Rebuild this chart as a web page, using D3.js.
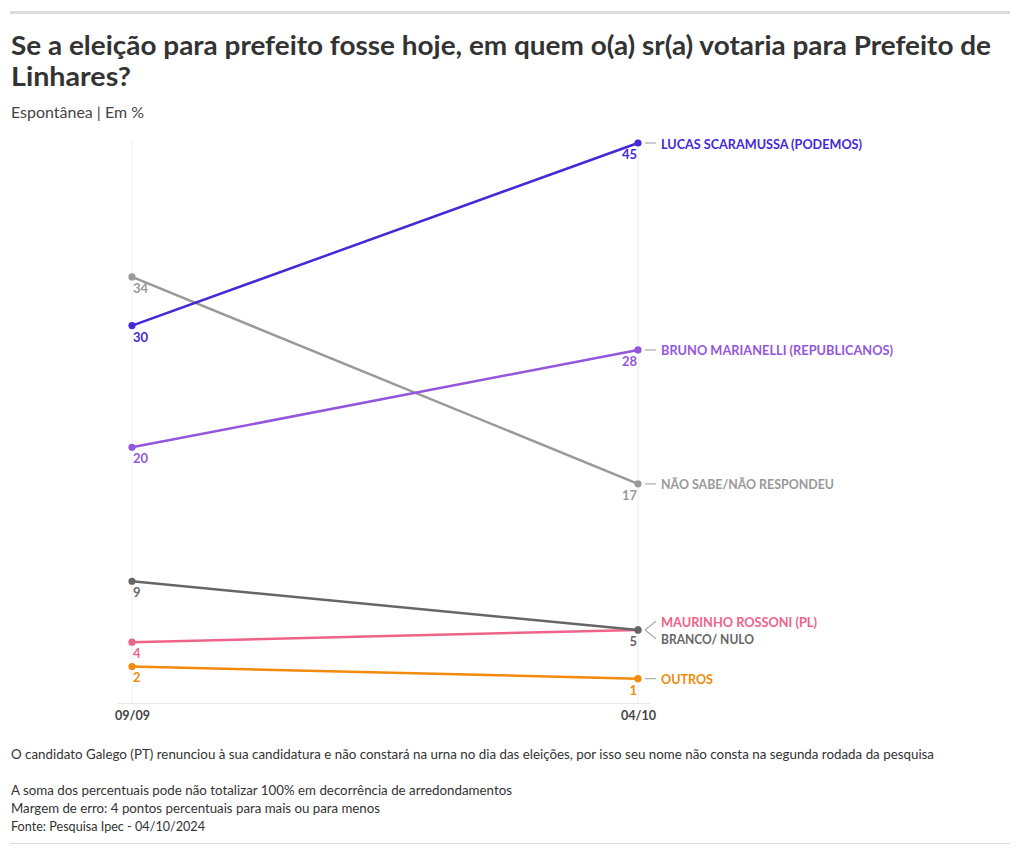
<!DOCTYPE html>
<html><head><meta charset="utf-8">
<script src="https://cdn.jsdelivr.net/npm/d3@7"></script>
<style>
body{margin:0;background:#fff;}
svg{display:block;font-family:Lato,"Noto Sans",sans-serif;}
</style></head>
<body>
<svg id="c" width="1020" height="855"></svg>
<script>
const dates = ["09/09", "04/10"];
const seriesNames = ["NÃO SABE/NÃO RESPONDEU", "LUCAS SCARAMUSSA (PODEMOS)", "BRUNO MARIANELLI (REPUBLICANOS)", "MAURINHO ROSSONI (PL)", "BRANCO/ NULO", "OUTROS"];
const valuesFirst = [34, 30, 20, 4, 9, 2];
const valuesSecond = [17, 45, 28, 5, 5, 1];
const seriesColors = ["#999999", "#4528d8", "#9457dc", "#ef6389", "#666666", "#f28a0a"];
const showEndValue = [true, true, true, false, true, true];
const titleLines = ["Se a eleição para prefeito fosse hoje, em quem o(a) sr(a) votaria para Prefeito de", "Linhares?"];
const subtitle = "Espontânea | Em %";
const notes = ["O candidato Galego (PT) renunciou à sua candidatura e não constará na urna no dia das eleições, por isso seu nome não consta na segunda rodada da pesquisa", "", "A soma dos percentuais pode não totalizar 100% em decorrência de arredondamentos", "Margem de erro: 4 pontos percentuais para mais ou para menos", "Fonte: Pesquisa Ipec - 04/10/2024"];

const svg = d3.select("#c");
const fit = (sel, w) => sel.attr("textLength", w).attr("lengthAdjust", "spacingAndGlyphs");

// top rule
svg.append("rect").attr("x", 10).attr("y", 11).attr("width", 1000).attr("height", 3).attr("fill", "#dddddd");
// title
const titleW = [980, 120];
titleLines.forEach((t, i) => {
  svg.append("text").attr("x", 11).attr("y", 55 + i * 31).attr("font-size", 27.5).attr("font-weight", 700)
    .attr("fill", "#333").text(t).call(fit, titleW[i]);
});
svg.append("text").attr("x", 11).attr("y", 118).attr("font-size", 15.5).attr("fill", "#444").text(subtitle).call(fit, 133);

const x = d3.scalePoint().domain(dates).range([132, 638]);
const y = d3.scaleLinear().domain([-1, 45]).range([703, 143]);

// grid verticals
dates.forEach(d => {
  svg.append("line").attr("x1", x(d)).attr("x2", x(d)).attr("y1", 140).attr("y2", 703)
    .attr("stroke", "#eeeeee").attr("stroke-width", 1);
});
// baseline
svg.append("line").attr("x1", 118).attr("x2", 650).attr("y1", 703.5).attr("y2", 703.5).attr("stroke", "#e6e6e6");

// x axis
const xAxis = d3.axisBottom(x).tickSize(0).tickPadding(0);
const gx = svg.append("g").attr("transform", "translate(0,705)").call(xAxis);
gx.select(".domain").remove();
gx.selectAll("text").attr("font-size", 13.5).attr("font-weight", 700).attr("fill", "#444")
  .attr("font-family", "Lato").attr("dy", "1.1em").each(function(){ d3.select(this).call(fit, 35); });

const series = seriesNames.map((n, i) => ({name: n, color: seriesColors[i], vals: [valuesFirst[i], valuesSecond[i]], showEnd: showEndValue[i]}));
const drawOrder = [0, 1, 2, 3, 4, 5];
const line = d3.line().x((v, j) => x(dates[j])).y(v => y(v));

drawOrder.forEach(i => {
  const s = series[i];
  svg.append("path").attr("d", line(s.vals)).attr("fill", "none").attr("stroke", s.color).attr("stroke-width", 2.5);
  s.vals.forEach((v, j) => {
    svg.append("circle").attr("cx", x(dates[j])).attr("cy", y(v)).attr("r", 3.6).attr("fill", s.color);
  });
  svg.append("text").attr("x", x(dates[0]) + 1).attr("y", y(s.vals[0]) + 16).attr("font-size", 13)
    .attr("font-weight", 700).attr("fill", s.color).text(s.vals[0]);
  if (s.showEnd) {
    svg.append("text").attr("x", x(dates[1]) - 1).attr("y", y(s.vals[1]) + 16).attr("font-size", 13)
      .attr("font-weight", 700).attr("fill", s.color).attr("text-anchor", "end").text(s.vals[1]);
  }
});

// end labels with collision avoidance
const labels = series.map(s => ({s, py: y(s.vals[1]), ly: y(s.vals[1])}));
labels.sort((a, b) => a.py - b.py || seriesNames.indexOf(a.s.name) - seriesNames.indexOf(b.s.name));
const gap = 17.5;
for (let iter = 0; iter < 50; iter++) {
  for (let k = 1; k < labels.length; k++) {
    const a = labels[k - 1], b = labels[k];
    if (b.ly - a.ly < gap) {
      const push = (gap - (b.ly - a.ly)) / 2;
      a.ly -= push; b.ly += push;
    }
  }
}
const widths = {"NÃO SABE/NÃO RESPONDEU": 173, "LUCAS SCARAMUSSA (PODEMOS)": 201, "BRUNO MARIANELLI (REPUBLICANOS)": 232, "MAURINHO ROSSONI (PL)": 156, "BRANCO/ NULO": 93, "OUTROS": 52};
const xe = x(dates[1]);
labels.forEach(l => {
  svg.append("line").attr("x1", xe + 7).attr("y1", l.py).attr("x2", xe + 18).attr("y2", l.ly)
    .attr("stroke", "#aaaaaa").attr("stroke-width", 1.2);
  svg.append("text").attr("x", xe + 23).attr("y", l.ly + 0.5).attr("dy", "0.36em").attr("font-size", 14)
    .attr("font-weight", 700).attr("fill", l.s.color).text(l.s.name).call(fit, widths[l.s.name]);
});

// notes
const noteY = [755, 773, 791, 809, 827];
const noteW = [923, 0, 501, 369, 194];
notes.forEach((t, i) => {
  if (!t) return;
  svg.append("text").attr("x", 11).attr("y", noteY[i] + 4).attr("font-size", 13.5).attr("fill", "#333").text(t).call(fit, noteW[i]);
});
svg.append("rect").attr("x", 10).attr("y", 843).attr("width", 1000).attr("height", 1).attr("fill", "#dddddd");
</script>
</body></html>
